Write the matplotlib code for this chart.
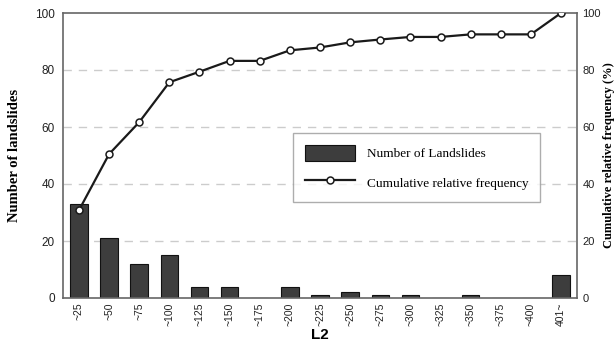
import matplotlib
matplotlib.use("Agg")
import matplotlib.pyplot as plt
import numpy as np

# categories of L2
labels = ['~25', '~50', '~75', '~100', '~125', '~150', '~175', '~200', '~225',
          '~250', '~275', '~300', '~325', '~350', '~375', '~400', '401~']
counts = [33, 21, 12, 15, 4, 4, 0, 4, 1, 2, 1, 1, 0, 1, 0, 0, 8]
cum_freq = [30.8, 50.5, 61.7, 75.7, 79.4, 83.2, 83.2, 86.9, 87.9, 89.7,
            90.7, 91.6, 91.6, 92.5, 92.5, 92.5, 100.0]

serif = 'Liberation Serif'
sans = 'Liberation Sans'

fig = plt.figure(figsize=(6.16, 3.46), dpi=100)
ax = fig.add_axes([63/616, 48/346, 514/616, 285/346])
x = np.arange(len(labels))

for g in [20, 40, 60, 80]:
    ax.axhline(g, color='#cccccc', lw=1.0, ls=(0, (6, 5)), zorder=0)

ax.bar(x, counts, width=0.58, color='#3d3d3d', edgecolor='#111111', lw=0.8,
       zorder=2, label='Number of Landslides')
ax.set_xlim(-0.53, 16.53)
ax.set_ylim(0, 100)
ax.set_yticks([0, 20, 40, 60, 80, 100])
ax.set_xticks(x)
ax.set_xticklabels(labels, rotation=90, fontsize=7.5, family=sans)
ax.tick_params(axis='both', length=0, colors='#222222')
ax.tick_params(axis='y', labelsize=8.5, pad=6)
for lab in ax.get_yticklabels():
    lab.set_family(sans)
for s in ax.spines.values():
    s.set_color('#666666')
    s.set_linewidth(1.2)
ax.set_ylabel('Number of landslides', family=serif, fontweight='bold',
              fontsize=10.5, labelpad=10)
ax.set_xlabel('L2', family=sans, fontweight='bold', fontsize=11, labelpad=1)

ax2 = ax.twinx()
ax2.plot(x, cum_freq, color='#1a1a1a', lw=1.6, marker='o', ms=5,
         mfc='white', mec='#1a1a1a', mew=1.1, zorder=3,
         label='Cumulative relative frequency')
ax2.set_ylim(0, 100)
ax2.set_yticks([0, 20, 40, 60, 80, 100])
ax2.tick_params(axis='y', length=0, labelsize=8, colors='#222222', pad=4)
for lab in ax2.get_yticklabels():
    lab.set_family(sans)
for s in ax2.spines.values():
    s.set_visible(False)
ax2.set_ylabel('Cumulative relative frequency (%)', family=serif,
               fontweight='bold', fontsize=9, rotation=90)
ax2.yaxis.set_label_coords((603 - 63) / 514, 0.5)

h1, l1 = ax.get_legend_handles_labels()
h2, l2 = ax2.get_legend_handles_labels()
leg = ax2.legend(h1 + h2, l1 + l2, loc='upper left',
                 bbox_to_anchor=((293-63)/514, (298-133)/285),
                 prop={'family': serif, 'size': 9.5}, frameon=True,
                 fancybox=False, edgecolor='#999999', handlelength=3.8,
                 handleheight=1.5, borderpad=0.9, labelspacing=1.0,
                 handletextpad=0.9, borderaxespad=0)
leg.get_frame().set_linewidth(1.0)

fig.savefig('out.png', dpi=100)
